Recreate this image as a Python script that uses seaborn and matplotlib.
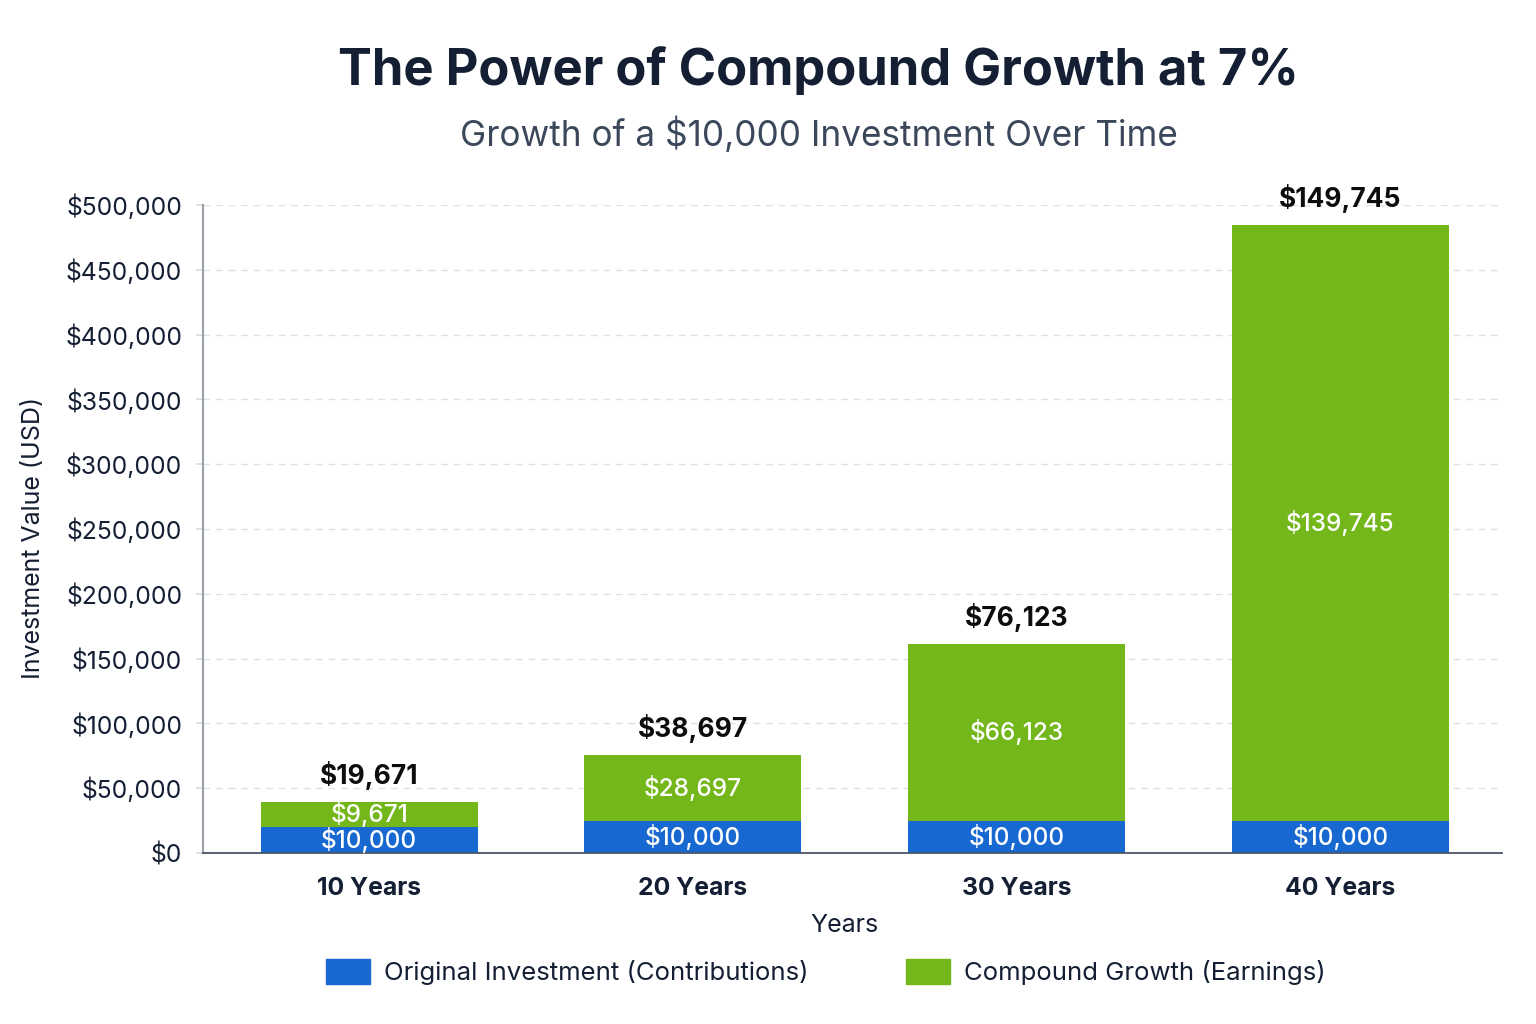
import pandas as pd
import matplotlib.pyplot as plt
import matplotlib.patches as mpatches
import seaborn as sns

# === Data (bar heights as drawn, labels as printed) ===
periods = ["10 Years", "20 Years", "30 Years", "40 Years"]
base_height = [20000, 25000, 25000, 25000]
total_height = [39500, 75500, 161500, 484500]
contrib_labels = ["$10,000", "$10,000", "$10,000", "$10,000"]
growth_labels = ["$9,671", "$28,697", "$66,123", "$139,745"]
total_labels = ["$19,671", "$38,697", "$76,123", "$149,745"]
yticks = [0, 50000, 100000, 150000, 200000, 250000, 300000, 350000, 400000, 450000, 500000]

BLUE = "#1769D1"
GREEN = "#73B71B"
NAVY = "#141F33"

df = pd.DataFrame({"Period": periods, "Base": base_height, "Total": total_height})

sns.set_theme(style="white")
plt.rcParams["font.family"] = ["Inter", "DejaVu Sans"]

fig = plt.figure(figsize=(15.36, 10.24), dpi=100)
ax = fig.add_axes([0.1322, 0.167, 0.8458, 0.6328])

# === Stacked bars: green total behind, blue base in front ===
sns.barplot(data=df, x="Period", y="Total", color=GREEN, width=0.67,
            saturation=1, linewidth=0, ax=ax, zorder=2)
sns.barplot(data=df, x="Period", y="Base", color=BLUE, width=0.67,
            saturation=1, linewidth=0, ax=ax, zorder=3)

ax.set_ylim(0, 500000)
ax.set_xlim(-0.513, 3.5)
ax.set_yticks(yticks)
ax.set_yticklabels([f"${v:,.0f}" for v in yticks], fontsize=17.8, color=NAVY)
ax.set_xticks(range(len(periods)))
ax.set_xticklabels(periods, fontsize=17.8, fontweight="bold", color=NAVY)
ax.tick_params(axis="x", length=0, pad=17)
ax.tick_params(axis="y", length=5, color="#d8dbe0", pad=10, left=True)

ax.grid(axis="y", linestyle=(0, (5, 4)), color="#dfe1e5", linewidth=1, zorder=0)
ax.set_axisbelow(True)
for s in ["top", "right"]:
    ax.spines[s].set_visible(False)
ax.spines["left"].set_color("#9aa0a8")
ax.spines["left"].set_linewidth(1.5)
ax.spines["bottom"].set_color("#4a5466")
ax.spines["bottom"].set_linewidth(1.3)
ax.spines["bottom"].set_zorder(5)

ax.set_xlabel("Years", fontsize=18, color=NAVY)
ax.xaxis.set_label_coords(0.4935, -0.094)
ax.set_ylabel("Investment Value (USD)", fontsize=18, color=NAVY)
ax.yaxis.set_label_coords(-0.1216, 0.486)

# === Value labels ===
for i in range(len(periods)):
    b = base_height[i]
    t = total_height[i]
    ax.text(i, b / 2, contrib_labels[i], ha="center", va="center",
            color="white", fontsize=17.5, fontweight="medium", zorder=6)
    ax.text(i, (b + t) / 2, growth_labels[i], ha="center", va="center",
            color="white", fontsize=17.5, fontweight="medium", zorder=6)
    ax.annotate(total_labels[i], (i, t), xytext=(0, 19), textcoords="offset points",
                ha="center", va="center", fontsize=19, fontweight="bold",
                color="#0d0d0d", zorder=6)

# === Titles ===
fig.text(0.533, 0.931, "The Power of Compound Growth at 7%", ha="center", va="center",
         fontsize=36.5, fontweight="bold", color=NAVY)
fig.text(0.533, 0.868, "Growth of a $10,000 Investment Over Time", ha="center",
         va="center", fontsize=25.3, color="#3b475a")

# === Legend ===
handles = [mpatches.Patch(color=BLUE, label="Original Investment (Contributions)"),
           mpatches.Patch(color=GREEN, label="Compound Growth (Earnings)")]
leg = fig.legend(handles=handles, loc="center", bbox_to_anchor=(0.5375, 0.0508),
                 ncol=2, frameon=False, fontsize=18.5, handlelength=1.7,
                 handleheight=1.13, handletextpad=0.55, columnspacing=3.8)
for txt in leg.get_texts():
    txt.set_color(NAVY)

plt.savefig("out.png", dpi=100)
